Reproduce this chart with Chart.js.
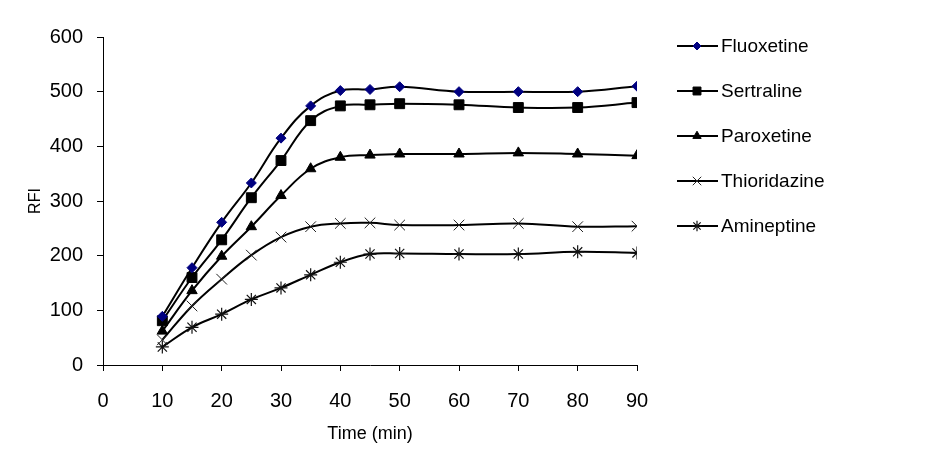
<!DOCTYPE html>
<html>
<head>
<meta charset="utf-8">
<script src="https://cdn.jsdelivr.net/npm/chart.js@4"></script>
<style>
  html, body { margin: 0; padding: 0; background: #fff; }
  #wrap { width: 927px; height: 473px; }
</style>
</head>
<body>
<div id="wrap"><canvas id="rfiChart" width="927" height="473"></canvas></div>
<script>
// Time points (min) and RFI readings for each drug
const times = [10, 15, 20, 25, 30, 35, 40, 45, 50, 60, 70, 80, 90];
const fluoxetine = [89, 178, 261, 333, 415, 474, 502, 504, 509, 500, 500, 500, 510];
const sertraline = [81, 160, 229, 306, 374, 447, 474, 476, 478, 476, 471, 471, 480];
const paroxetine = [62, 136, 199, 253, 310, 359, 380, 384, 386, 386, 388, 386, 383];
const thioridazine = [46, 108, 157, 201, 234, 253, 259, 260, 256, 256, 259, 253, 254];
const amineptine = [33, 69, 93, 120, 141, 165, 188, 203, 204, 203, 203, 207, 205];

const seriesNames = ['Fluoxetine', 'Sertraline', 'Paroxetine', 'Thioridazine', 'Amineptine'];
const seriesValues = [fluoxetine, sertraline, paroxetine, thioridazine, amineptine];

const FONT = "'Liberation Sans', Arial, sans-serif";

// marker look per series
const markers = [
    { style: 'rectRot', radius: 5, fill: '#000080', stroke: '#000080', width: 1 },
    { style: 'rect', radius: 7, fill: '#000', stroke: '#000', width: 1 },
    { style: 'triangle', radius: 6, fill: '#000', stroke: '#000', width: 1 },
    { style: 'crossRot', radius: 7.5, fill: '#000', stroke: '#222', width: 1 },
    { style: 'star', radius: 6.5, fill: '#000', stroke: '#111', width: 1.2 }
];

function makeDataset(name, values, m) {
    return {
        label: name,
        data: times.map((t, i) => ({ x: t, y: values[i] })),
        borderColor: '#000',
        borderWidth: 2,
        tension: 0.4,
        pointStyle: m.style,
        pointRadius: m.radius,
        pointBackgroundColor: m.fill,
        pointBorderColor: m.stroke,
        pointBorderWidth: m.width
    };
}

// legend drawn on the right like the original (line with marker through it)
const sideLegend = {
    id: 'sideLegend',
    afterDraw(chart) {
        const ctx = chart.ctx;
        ctx.save();
        chart.data.datasets.forEach((ds, i) => {
            const y = 46 + i * 45;
            ctx.strokeStyle = '#000';
            ctx.lineWidth = 2;
            ctx.beginPath();
            ctx.moveTo(677, y);
            ctx.lineTo(718, y);
            ctx.stroke();
            const m = markers[i];
            ctx.fillStyle = m.fill;
            ctx.strokeStyle = m.stroke;
            ctx.lineWidth = m.width;
            Chart.helpers.drawPoint(ctx, {
                pointStyle: m.style,
                rotation: 0,
                radius: m.radius * 0.8,
                borderWidth: m.width
            }, 697, y);
            ctx.fillStyle = '#000';
            ctx.font = '19px ' + FONT;
            ctx.textAlign = 'left';
            ctx.textBaseline = 'middle';
            ctx.fillText(ds.label, 721, y + 1);
        });
        ctx.restore();
    }
};

new Chart(document.getElementById('rfiChart'), {
    type: 'line',
    data: {
        datasets: seriesNames.map((n, i) => makeDataset(n, seriesValues[i], markers[i]))
    },
    options: {
        responsive: false,
        animation: false,
        layout: { padding: { top: 37, right: 290, bottom: 0, left: 0 } },
        plugins: {
            legend: { display: false },
            tooltip: { enabled: false }
        },
        scales: {
            x: {
                type: 'linear',
                min: 0,
                max: 90,
                ticks: { stepSize: 10, color: '#000', padding: 18, font: { family: FONT, size: 20 } },
                grid: { drawOnChartArea: false, color: '#000', tickLength: 6 },
                border: { color: '#000', width: 1 },
                title: { display: true, text: 'Time (min)', color: '#000', font: { family: FONT, size: 18 }, padding: { top: 6, bottom: 28 } },
                afterFit(scale) { scale.height = 108; }
            },
            y: {
                min: 0,
                max: 600,
                ticks: { stepSize: 100, color: '#000', padding: 14, font: { family: FONT, size: 20 } },
                grid: { drawOnChartArea: false, color: '#000', tickLength: 6 },
                border: { color: '#000', width: 1 },
                title: { display: true, text: 'RFI', color: '#000', font: { family: FONT, size: 16 }, padding: { top: 26, bottom: 0 } },
                afterFit(scale) { scale.width = 103; }
            }
        }
    },
    plugins: [sideLegend]
});
</script>
</body>
</html>
